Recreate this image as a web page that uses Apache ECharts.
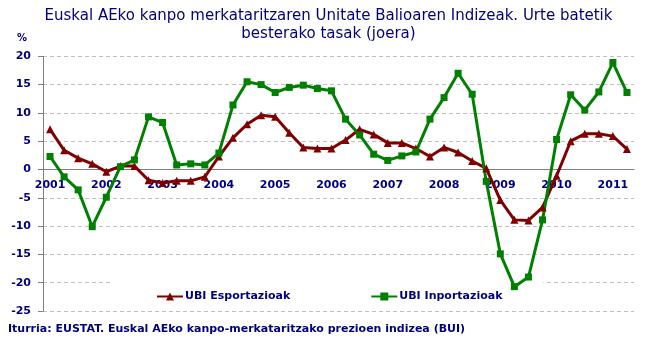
<!DOCTYPE html>
<html>
<head>
<meta charset="utf-8">
<script src="https://cdn.jsdelivr.net/npm/echarts@6/dist/echarts.min.js"></script>
<style>
  html, body { margin: 0; padding: 0; background: #fff; }
  #chart { width: 657px; height: 352px; }
</style>
</head>
<body>
<div id="chart"></div>
<script>
// quarters 2001-I .. 2011-II
const quarters = [];
for (let y = 2001; y <= 2011; y++) {
  ['I', 'II', 'III', 'IV'].forEach(q => quarters.push(y + '-' + q));
}
quarters.length = 42;

const esportazioak = [7.1, 3.4, 2.0, 1.0, -0.4, 0.6, 0.6, -1.9, -2.4, -2.0, -2.0, -1.3,
  2.3, 5.6, 8.0, 9.6, 9.3, 6.5, 3.9, 3.7, 3.7, 5.2, 7.1, 6.2,
  4.7, 4.7, 3.7, 2.3, 3.9, 3.0, 1.5, 0.2, -5.4, -8.9, -9.0, -6.7,
  -1.1, 5.0, 6.3, 6.3, 5.9, 3.6];

const inportazioak = [2.3, -1.3, -3.6, -10.1, -4.9, 0.5, 1.7, 9.3, 8.3, 0.8, 1.0, 0.8,
  2.9, 11.4, 15.5, 15.0, 13.6, 14.5, 14.9, 14.3, 13.9, 8.9, 6.1, 2.7,
  1.6, 2.4, 3.1, 8.9, 12.7, 17.0, 13.3, -2.1, -14.9, -20.7, -19.0, -8.9,
  5.3, 13.2, 10.5, 13.7, 18.9, 13.6];

const navy = '#000080';
const font = 'DejaVu Sans, Verdana, sans-serif';

const chart = echarts.init(document.getElementById('chart'));

const option = {
  animation: false,
  title: [
    {
      text: 'Euskal AEko kanpo merkataritzaren Unitate Balioaren Indizeak. Urte batetik\nbesterako tasak (joera)',
      left: 'center',
      top: 2,
      textStyle: { color: navy, fontFamily: font, fontSize: 15, fontWeight: 'normal', lineHeight: 18, align: 'center' }
    },
    {
      text: 'Iturria: EUSTAT. Euskal AEko kanpo-merkataritzako prezioen indizea (BUI)',
      left: 3,
      top: 319,
      textStyle: { color: navy, fontFamily: font, fontSize: 11, fontWeight: 'bold' }
    }
  ],
  graphic: [
    {
      type: 'text',
      left: 17,
      top: 33,
      style: { text: '%', fill: navy, font: 'bold 10px ' + font }
    }
  ],
  legend: {
    left: 111,
    top: 281,
    z: 1,
    backgroundColor: '#fff',
    padding: [10, 41, 6, 45],
    itemGap: 80,
    itemWidth: 26,
    itemHeight: 10,
    textStyle: { color: navy, fontFamily: font, fontSize: 11, fontWeight: 'bold', padding: [0, 0, 0, -3] },
    data: ['UBI Esportazioak', 'UBI Inportazioak']
  },
  grid: { left: 43, right: 23, top: 56.3, bottom: 41 },
  xAxis: {
    type: 'category',
    data: quarters,
    boundaryGap: true,
    axisLine: { onZero: false, lineStyle: { color: '#808080', width: 1 } },
    axisTick: { interval: 0, length: 4, lineStyle: { color: '#808080' } },
    axisLabel: {
      interval: 3,
      margin: 10,
      color: navy,
      fontFamily: font,
      fontSize: 11,
      fontWeight: 'bold',
      formatter: v => v.slice(0, 4)
    }
  },
  yAxis: {
    type: 'value',
    min: -25,
    max: 20,
    interval: 5,
    axisLine: { show: true, lineStyle: { color: '#808080', width: 1 } },
    axisTick: { show: true, length: 5, lineStyle: { color: '#808080' } },
    axisLabel: { margin: 12, color: navy, fontFamily: font, fontSize: 11, fontWeight: 'bold' },
    splitLine: { lineStyle: { color: '#c0c0c0', type: [4, 3], width: 1 } }
  },
  series: [
    {
      name: 'UBI Esportazioak',
      type: 'line',
      data: esportazioak,
      symbol: 'triangle',
      symbolSize: 8,
      color: '#800000',
      lineStyle: { width: 3, color: '#800000' },
      itemStyle: { color: '#800000' }
    },
    {
      name: 'UBI Inportazioak',
      type: 'line',
      data: inportazioak,
      symbol: 'rect',
      symbolSize: 7,
      color: '#008000',
      lineStyle: { width: 3, color: '#008000' },
      itemStyle: { color: '#008000' }
    }
  ]
};

chart.setOption(option);

// move the whole category axis (line, ticks, labels) up to the zero line
const zeroY = chart.convertToPixel({ yAxisIndex: 0 }, 0);
const bottomY = chart.convertToPixel({ yAxisIndex: 0 }, -25);
chart.setOption({ xAxis: { offset: zeroY - bottomY } });
</script>
</body>
</html>
